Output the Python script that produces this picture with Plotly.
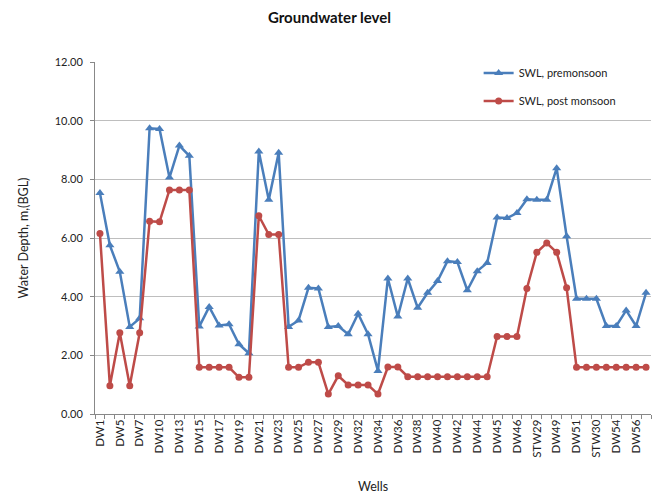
import plotly.graph_objects as go

wells = ["DW1", "DW3", "DW5", "DW6", "DW7", "DW9", "DW10", "DW12", "DW13", "DW14",
         "DW15", "DW16", "DW17", "DW18", "DW19", "DW20", "DW21", "DW22", "DW23", "DW24",
         "DW25", "DW26", "DW27", "DW28", "DW29", "DW31", "DW32", "DW33", "DW34", "DW35",
         "DW36", "DW37", "DW38", "DW39", "DW40", "DW41", "DW42", "DW43", "DW44", "STW27",
         "DW45", "STW28", "DW46", "DW47", "STW29", "DW48", "DW49", "DW50", "DW51", "DW52",
         "STW30", "DW53", "DW54", "DW55", "DW56", "DW57"]

swl_pre = [7.53, 5.75, 4.85, 2.97, 3.26, 9.74, 9.72, 8.06, 9.15, 8.80,
           2.98, 3.65, 3.02, 3.06, 2.38, 2.07, 8.95, 7.30, 8.91, 2.97,
           3.19, 4.30, 4.28, 2.97, 3.00, 2.72, 3.42, 2.72, 1.47, 4.62,
           3.32, 4.62, 3.62, 4.13, 4.53, 5.21, 5.18, 4.22, 4.87, 5.15,
           6.70, 6.68, 6.85, 7.32, 7.30, 7.30, 8.38, 6.06, 3.93, 3.93,
           3.93, 3.00, 3.00, 3.53, 3.00, 4.13]

swl_post = [6.15, 0.96, 2.77, 0.96, 2.77, 6.57, 6.55, 7.64, 7.64, 7.64,
            1.59, 1.59, 1.59, 1.59, 1.25, 1.25, 6.76, 6.12, 6.12, 1.59,
            1.59, 1.76, 1.76, 0.68, 1.30, 0.99, 0.99, 0.99, 0.68, 1.60,
            1.60, 1.27, 1.27, 1.27, 1.27, 1.27, 1.27, 1.27, 1.27, 1.27,
            2.64, 2.64, 2.64, 4.28, 5.51, 5.83, 5.51, 4.30, 1.59, 1.59,
            1.59, 1.59, 1.59, 1.59, 1.59, 1.59]

tick_text = [w if i % 2 == 0 else "" for i, w in enumerate(wells)]
y_ticks = [0, 2, 4, 6, 8, 10, 12]

BLUE = "#4A7EBB"
RED = "#BE4B48"
FONT = "Lato, 'Open Sans', sans-serif"

fig = go.Figure()
fig.add_trace(go.Scatter(
    x=wells, y=swl_pre, mode="lines+markers", name="SWL, premonsoon",
    legendgroup="a",
    line=dict(color=BLUE, width=2.5),
    marker=dict(symbol="triangle-up", size=8, color=BLUE),
))
fig.add_trace(go.Scatter(
    x=wells, y=swl_post, mode="lines+markers", name="SWL, post monsoon",
    legendgroup="b",
    line=dict(color=RED, width=2.5),
    marker=dict(symbol="circle", size=7, color=RED),
))

fig.update_layout(
    width=659, height=494,
    margin=dict(l=95, r=8, t=62, b=80, autoexpand=False),
    paper_bgcolor="white", plot_bgcolor="white",
    font=dict(family=FONT, color="#222222", size=11),
    title=dict(text="<b>Groundwater level</b>", x=0.5, xanchor="center",
               y=0.965, yref="container", yanchor="middle",
               font=dict(size=15, family=FONT, color="#111111")),
    showlegend=True,
    legend=dict(x=0.69, y=1.01, xanchor="left", yanchor="top",
                bgcolor="rgba(255,255,255,0)", font=dict(size=11),
                traceorder="grouped", tracegroupgap=9),
    xaxis=dict(
        type="category", tickmode="array", tickvals=wells, ticktext=tick_text,
        tickangle=-90, tickfont=dict(size=11.5),
        showgrid=False, showline=True, linecolor="#888888", linewidth=1,
        ticks="outside", ticklen=4, tickcolor="#888888", tickson="boundaries",
        title=dict(text="Wells", font=dict(size=12.5), standoff=26),
        range=[-0.5, len(wells) - 0.5], automargin=False,
    ),
    yaxis=dict(
        range=[0, 12], tickmode="array", tickvals=y_ticks,
        tickformat=".2f", tickfont=dict(size=11),
        showgrid=True, gridcolor="#BEBEBE", gridwidth=1,
        showline=True, linecolor="#888888", linewidth=1,
        ticks="outside", ticklen=4, tickcolor="#888888",
        ticklabelstandoff=5,
        zeroline=False, automargin=False,
        title=dict(text="Water Depth, m,(BGL)", font=dict(size=12.5), standoff=23),
    ),
)

fig.write_html("out.html", config={"displayModeBar": False},
               post_script="document.body.style.margin='0';document.body.style.padding='0';window.dispatchEvent(new Event('resize'));")
